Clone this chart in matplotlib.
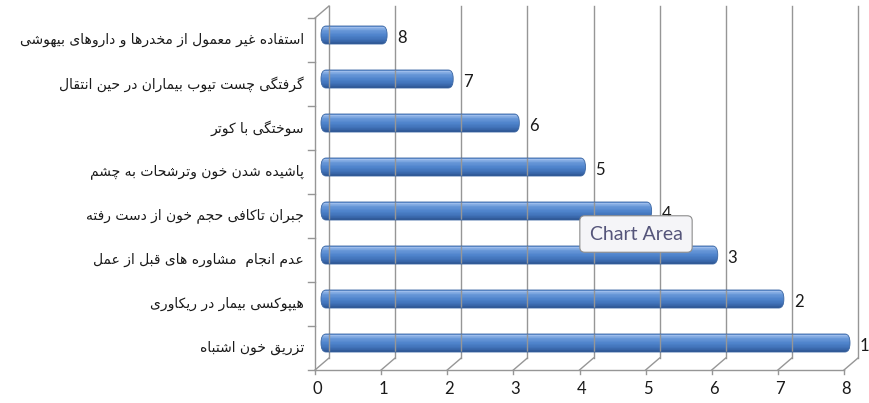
import matplotlib
matplotlib.use("Agg")
import matplotlib.pyplot as plt
from matplotlib.patches import FancyBboxPatch
from matplotlib.transforms import offset_copy
from matplotlib.colors import LinearSegmentedColormap
import numpy as np

# ---------------- data (bottom to top) ----------------
categories = [
    "تزریق خون اشتباه",
    "هیپوکسی بیمار در ریکاوری",
    "عدم انجام  مشاوره های قبل از عمل",
    "جبران تاکافی حجم خون از دست رفته",
    "پاشیده شدن خون وترشحات به چشم",
    "سوختگی با کوتر",
    "گرفتگی چست تیوب بیماران در حین انتقال",
    "استفاده غیر معمول از مخدرها و داروهای بیهوشی",
]
values = [8, 7, 6, 5, 4, 3, 2, 1]
bar_labels = ["1", "2", "3", "4", "5", "6", "7", "8"]
x_ticks = [0, 1, 2, 3, 4, 5, 6, 7, 8]

# ---------------- minimal Arabic/Persian shaper ----------------
_FORMS = {
    "ا": (0xFE8D, 0xFE8E, None, None), "آ": (0xFE81, 0xFE82, None, None),
    "ب": (0xFE8F, 0xFE90, 0xFE91, 0xFE92), "ت": (0xFE95, 0xFE96, 0xFE97, 0xFE98),
    "ث": (0xFE99, 0xFE9A, 0xFE9B, 0xFE9C), "ج": (0xFE9D, 0xFE9E, 0xFE9F, 0xFEA0),
    "ح": (0xFEA1, 0xFEA2, 0xFEA3, 0xFEA4), "خ": (0xFEA5, 0xFEA6, 0xFEA7, 0xFEA8),
    "د": (0xFEA9, 0xFEAA, None, None), "ذ": (0xFEAB, 0xFEAC, None, None),
    "ر": (0xFEAD, 0xFEAE, None, None), "ز": (0xFEAF, 0xFEB0, None, None),
    "ژ": (0xFB8A, 0xFB8B, None, None),
    "س": (0xFEB1, 0xFEB2, 0xFEB3, 0xFEB4), "ش": (0xFEB5, 0xFEB6, 0xFEB7, 0xFEB8),
    "ص": (0xFEB9, 0xFEBA, 0xFEBB, 0xFEBC), "ض": (0xFEBD, 0xFEBE, 0xFEBF, 0xFEC0),
    "ط": (0xFEC1, 0xFEC2, 0xFEC3, 0xFEC4), "ظ": (0xFEC5, 0xFEC6, 0xFEC7, 0xFEC8),
    "ع": (0xFEC9, 0xFECA, 0xFECB, 0xFECC), "غ": (0xFECD, 0xFECE, 0xFECF, 0xFED0),
    "ف": (0xFED1, 0xFED2, 0xFED3, 0xFED4), "ق": (0xFED5, 0xFED6, 0xFED7, 0xFED8),
    "ل": (0xFEDD, 0xFEDE, 0xFEDF, 0xFEE0), "م": (0xFEE1, 0xFEE2, 0xFEE3, 0xFEE4),
    "ن": (0xFEE5, 0xFEE6, 0xFEE7, 0xFEE8), "ه": (0xFEE9, 0xFEEA, 0xFEEB, 0xFEEC),
    "و": (0xFEED, 0xFEEE, None, None),
    "ی": (0xFBFC, 0xFBFD, 0xFBFE, 0xFBFF), "ي": (0xFEF1, 0xFEF2, 0xFEF3, 0xFEF4),
    "پ": (0xFB56, 0xFB57, 0xFB58, 0xFB59), "چ": (0xFB7A, 0xFB7B, 0xFB7C, 0xFB7D),
    "ک": (0xFB8E, 0xFB8F, 0xFB90, 0xFB91), "گ": (0xFB92, 0xFB93, 0xFB94, 0xFB95),
}


def _dual(c):
    return c in _FORMS and _FORMS[c][2] is not None


def shape(text):
    out = []
    n = len(text)
    for i, c in enumerate(text):
        if c not in _FORMS:
            out.append(c)
            continue
        prev = text[i - 1] if i > 0 else ""
        nxt = text[i + 1] if i + 1 < n else ""
        jp = _dual(prev)
        jn = _dual(c) and nxt in _FORMS
        iso, fin, ini, med = _FORMS[c]
        if jp and jn:
            code = med
        elif jp:
            code = fin
        elif jn:
            code = ini
        else:
            code = iso
        out.append(chr(code))
    return "".join(out)[::-1]


# ---------------- figure / axes ----------------
W, H = 870, 403
fig = plt.figure(figsize=(W / 100, H / 100), dpi=100)
fig.patch.set_facecolor("white")
X0, X8, YT, YB = 315, 844, 18, 370
ax = fig.add_axes([X0 / W, 1 - YB / H, (X8 - X0) / W, (YB - YT) / H])
ax.set_xlim(0, 8)
ax.set_ylim(-0.5, 7.5)
ax.axis("off")

pxu_x = (X8 - X0) / 8.0
pxu_y = (YB - YT) / 8.0
DX, DY = 14, 12           # depth offset of the back wall (pixels)
ddx, ddy = DX / pxu_x, DY / pxu_y
back = offset_copy(ax.transData, fig=fig, x=DX, y=DY, units="dots")
mid = offset_copy(ax.transData, fig=fig, x=6, y=5, units="dots")

gcol = "#969696"
lw = 1.0
y0, y1 = ax.get_ylim()
# back wall vertical gridlines + floor diagonals + front ticks
for v in x_ticks:
    ax.plot([v, v], [y0, y1], color=gcol, lw=lw, transform=back, clip_on=False)
    ax.plot([v, v + ddx], [y0, y0 + ddy], color=gcol, lw=lw, clip_on=False)
    ax.plot([v, v], [y0, y0 - 4 / pxu_y], color=gcol, lw=lw, clip_on=False)
# front axis lines
ax.plot([0, 8], [y0, y0], color=gcol, lw=lw, clip_on=False)
ax.plot([0, 0], [y0, y1], color=gcol, lw=lw, clip_on=False)
ax.plot([0, ddx], [y1, y1 + ddy], color=gcol, lw=lw, clip_on=False)
# left category ticks
for k in range(len(categories) + 1):
    yy = y0 + k
    ax.plot([-7 / pxu_x, 0], [yy, yy], color=gcol, lw=lw, clip_on=False)

# ---------------- cylinder bars ----------------
ypos = np.arange(len(categories))
bh = 18 / pxu_y
stops = [(0.0, "#5f8fd4"), (0.08, "#9dbdeb"), (0.22, "#6c9bda"),
         (0.5, "#4f84cc"), (0.78, "#3e6fb5"), (1.0, "#2b518c")]
cmap = LinearSegmentedColormap.from_list("cyl", stops)
nstr = 30
rx = 5 / pxu_x
ry = bh / 2
asp = ry / rx

clips = []
for yi, v in zip(ypos, values):
    p = FancyBboxPatch((0, yi - bh / 2), v, bh,
                       boxstyle=f"round,pad=0,rounding_size={rx}",
                       mutation_aspect=asp, transform=mid,
                       facecolor="none", edgecolor="none", clip_on=False)
    ax.add_patch(p)
    clips.append(p)

for s in range(nstr):
    frac = (s + 0.5) / nstr
    off = bh / 2 - frac * bh
    cont = ax.barh(ypos + off, values, height=bh / nstr * 1.1, left=0,
                   color=cmap(frac), linewidth=0, transform=mid)
    for rect, cp in zip(cont.patches, clips):
        rect.set_clip_path(cp)
        rect.set_clip_box(None)

for yi, v in zip(ypos, values):
    p = FancyBboxPatch((0, yi - bh / 2), v, bh,
                       boxstyle=f"round,pad=0,rounding_size={rx}",
                       mutation_aspect=asp, transform=mid,
                       facecolor="none", edgecolor="#3a66a3", lw=0.6,
                       clip_on=False, zorder=3)
    ax.add_patch(p)

# ---------------- texts ----------------
numfont = "Lato"
for yi, v, lab in zip(ypos, values, bar_labels):
    ax.annotate(lab, xy=(v, yi), xycoords=mid, xytext=(10, -3),
                textcoords="offset pixels", ha="left", va="center",
                fontsize=12, family=numfont, color="#1a1a1a")

for v in x_ticks:
    ax.annotate(str(v), xy=(v, y0), xycoords="data", xytext=(2, -19),
                textcoords="offset pixels", ha="center", va="center",
                fontsize=12, family=numfont, color="#1a1a1a")

for yi, c in zip(ypos, categories):
    ax.annotate(shape(c), xy=(0, yi), xycoords="data", xytext=(-11, 0),
                textcoords="offset pixels", ha="right", va="center",
                fontsize=10, family=["DejaVu Sans"], color="#1a1a1a")

# tooltip
fig.text(636 / W, 1 - 234 / H, "Chart Area", ha="center", va="center",
         fontsize=14, family=numfont, color="#55557a", zorder=10,
         bbox=dict(boxstyle="round,pad=0.5,rounding_size=0.25",
                   facecolor="#f5f5f8", edgecolor="#8c8c8c", lw=0.8))

fig.savefig("out.png", dpi=100)
